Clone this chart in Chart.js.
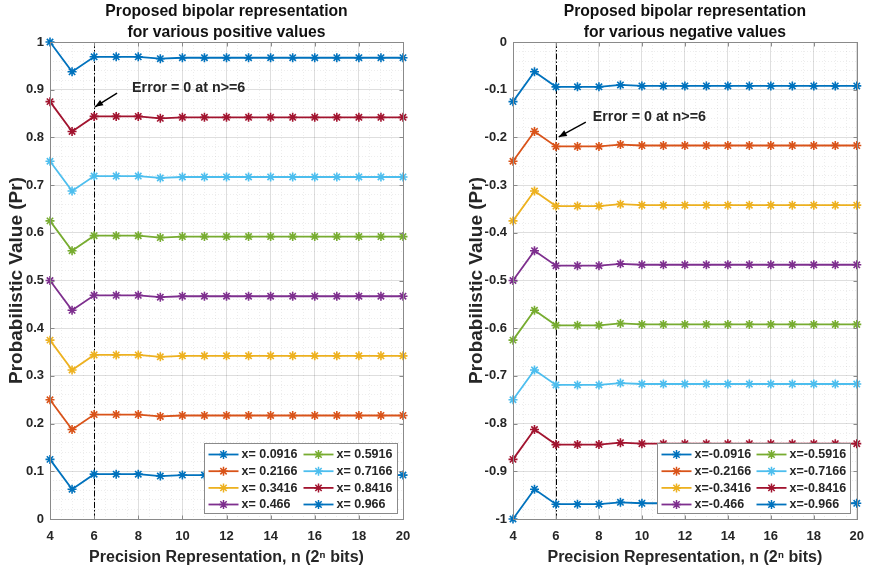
<!DOCTYPE html>
<html><head><meta charset="utf-8">
<script src="https://cdn.jsdelivr.net/npm/chart.js@4.4.1/dist/chart.umd.min.js"></script>
<style>
html,body{margin:0;padding:0;background:#fff;}
#wrap{position:relative;width:874px;height:573px;overflow:hidden;background:#fff;}
canvas{position:absolute;top:0;}
#c1{left:0;}
#c2{left:437px;}
</style></head><body>
<div id="wrap"><canvas id="c1" width="437" height="573"></canvas><canvas id="c2" width="437" height="573"></canvas></div>
<script>
// ---------- DATA ----------
const nValues = [4,5,6,7,8,9,10,11,12,13,14,15,16,17,18,19,20];
const xTickLabels = ['4','6','8','10','12','14','16','18','20'];
const posTickLabels = ['0','0.1','0.2','0.3','0.4','0.5','0.6','0.7','0.8','0.9','1'];
const negTickLabels = ['-1','-0.9','-0.8','-0.7','-0.6','-0.5','-0.4','-0.3','-0.2','-0.1','0'];

const posLabels = ['x= 0.0916','x= 0.2166','x= 0.3416','x= 0.466','x= 0.5916','x= 0.7166','x= 0.8416','x= 0.966'];
const negLabels = ['x=-0.0916','x=-0.2166','x=-0.3416','x=-0.466','x=-0.5916','x=-0.7166','x=-0.8416','x=-0.966'];

const pos0916 = [0.125,0.0625,0.094,0.094,0.094,0.090,0.092,0.092,0.092,0.092,0.092,0.092,0.092,0.092,0.092,0.092,0.092];
const pos2166 = [0.25,0.1875,0.219,0.219,0.219,0.215,0.217,0.217,0.217,0.217,0.217,0.217,0.217,0.217,0.217,0.217,0.217];
const pos3416 = [0.375,0.3125,0.344,0.344,0.344,0.340,0.342,0.342,0.342,0.342,0.342,0.342,0.342,0.342,0.342,0.342,0.342];
const pos466  = [0.5,0.4375,0.469,0.469,0.469,0.465,0.467,0.467,0.467,0.467,0.467,0.467,0.467,0.467,0.467,0.467,0.467];
const pos5916 = [0.625,0.5625,0.594,0.594,0.594,0.590,0.592,0.592,0.592,0.592,0.592,0.592,0.592,0.592,0.592,0.592,0.592];
const pos7166 = [0.75,0.6875,0.719,0.719,0.719,0.715,0.717,0.717,0.717,0.717,0.717,0.717,0.717,0.717,0.717,0.717,0.717];
const pos8416 = [0.875,0.8125,0.844,0.844,0.844,0.840,0.842,0.842,0.842,0.842,0.842,0.842,0.842,0.842,0.842,0.842,0.842];
const pos966  = [1.0,0.9375,0.969,0.969,0.969,0.965,0.967,0.967,0.967,0.967,0.967,0.967,0.967,0.967,0.967,0.967,0.967];

const neg0916 = [-0.125,-0.0625,-0.094,-0.094,-0.094,-0.090,-0.092,-0.092,-0.092,-0.092,-0.092,-0.092,-0.092,-0.092,-0.092,-0.092,-0.092];
const neg2166 = [-0.25,-0.1875,-0.219,-0.219,-0.219,-0.215,-0.217,-0.217,-0.217,-0.217,-0.217,-0.217,-0.217,-0.217,-0.217,-0.217,-0.217];
const neg3416 = [-0.375,-0.3125,-0.344,-0.344,-0.344,-0.340,-0.342,-0.342,-0.342,-0.342,-0.342,-0.342,-0.342,-0.342,-0.342,-0.342,-0.342];
const neg466  = [-0.5,-0.4375,-0.469,-0.469,-0.469,-0.465,-0.467,-0.467,-0.467,-0.467,-0.467,-0.467,-0.467,-0.467,-0.467,-0.467,-0.467];
const neg5916 = [-0.625,-0.5625,-0.594,-0.594,-0.594,-0.590,-0.592,-0.592,-0.592,-0.592,-0.592,-0.592,-0.592,-0.592,-0.592,-0.592,-0.592];
const neg7166 = [-0.75,-0.6875,-0.719,-0.719,-0.719,-0.715,-0.717,-0.717,-0.717,-0.717,-0.717,-0.717,-0.717,-0.717,-0.717,-0.717,-0.717];
const neg8416 = [-0.875,-0.8125,-0.844,-0.844,-0.844,-0.840,-0.842,-0.842,-0.842,-0.842,-0.842,-0.842,-0.842,-0.842,-0.842,-0.842,-0.842];
const neg966  = [-1.0,-0.9375,-0.969,-0.969,-0.969,-0.965,-0.967,-0.967,-0.967,-0.967,-0.967,-0.967,-0.967,-0.967,-0.967,-0.967,-0.967];

const posSeries = [pos0916,pos2166,pos3416,pos466,pos5916,pos7166,pos8416,pos966];
const negSeries = [neg0916,neg2166,neg3416,neg466,neg5916,neg7166,neg8416,neg966];

const seriesColors = ['#0072BD','#D95319','#EDB120','#7E2F8E','#77AC30','#4DBEEE','#A2142F','#0072BD'];

const posTitle = ['Proposed bipolar representation','for various positive values'];
const negTitle = ['Proposed bipolar representation','for various negative values'];
const xTitle = 'Precision Representation, n (2\u207F bits)';
const yTitle = 'Probabilistic Value (Pr)';
const annotText = 'Error = 0 at n>=6';
const errorN = 6;

// ---------- DRAWING ----------
const FONT = '"Liberation Sans", Arial, Helvetica, sans-serif';
const TXT = '#262626';

function drawStar(ctx, cx, cy, r) {
  ctx.beginPath();
  for (let k = 0; k < 4; k++) {
    const ang = k * Math.PI / 4;
    const dx = Math.cos(ang) * r, dy = Math.sin(ang) * r;
    ctx.moveTo(cx - dx, cy - dy); ctx.lineTo(cx + dx, cy + dy);
  }
  ctx.stroke();
}

const decoPlugin = {
  id: 'deco',
  beforeDatasetsDraw(chart, args, o) {
    const {ctx, chartArea: a, scales: {x}} = chart;
    ctx.save();
    ctx.strokeStyle = '#000'; ctx.lineWidth = 1;
    ctx.setLineDash([6, 2, 1.5, 2]);
    const px = Math.round(x.getPixelForValue(errorN)) + 0.5;
    ctx.beginPath(); ctx.moveTo(px, a.top); ctx.lineTo(px, a.bottom); ctx.stroke();
    ctx.restore();
  },
  afterDatasetsDraw(chart, args, o) {
    const {ctx, chartArea: a, scales: {x, y}} = chart;
    ctx.save();
    // axes box + inward ticks
    ctx.strokeStyle = '#8a8a8a'; ctx.lineWidth = 1;
    const L = Math.round(a.left) + 0.5, R = Math.round(a.right) + 0.5, T = Math.round(a.top) + 0.5, B = Math.round(a.bottom) + 0.5;
    ctx.strokeRect(L, T, R - L, B - T);
    ctx.beginPath();
    for (let v = 4; v <= 20; v += 2) {
      const px = Math.round(x.getPixelForValue(v)) + 0.5;
      ctx.moveTo(px, B); ctx.lineTo(px, B - 4);
      ctx.moveTo(px, T); ctx.lineTo(px, T + 4);
    }
    for (let k = 0; k <= 10; k++) {
      const py = Math.round(y.getPixelForValue(y.min + k * 0.1)) + 0.5;
      ctx.moveTo(L, py); ctx.lineTo(L + 4, py);
      ctx.moveTo(R, py); ctx.lineTo(R - 4, py);
    }
    ctx.stroke();

    // annotation arrow + text
    const tx = x.getPixelForValue(o.annot.tx), ty = y.getPixelForValue(o.annot.ty);
    const ax0 = x.getPixelForValue(o.annot.ax0), ay0 = y.getPixelForValue(o.annot.ay0);
    const ax1 = x.getPixelForValue(o.annot.ax1), ay1 = y.getPixelForValue(o.annot.ay1);
    ctx.strokeStyle = '#000'; ctx.fillStyle = '#000'; ctx.lineWidth = 1.4;
    ctx.beginPath(); ctx.moveTo(ax0, ay0); ctx.lineTo(ax1, ay1); ctx.stroke();
    const ang = Math.atan2(ay1 - ay0, ax1 - ax0);
    const hl = 8, hw = 3.2;
    ctx.beginPath();
    ctx.moveTo(ax1, ay1);
    ctx.lineTo(ax1 - hl * Math.cos(ang) + hw * Math.sin(ang), ay1 - hl * Math.sin(ang) - hw * Math.cos(ang));
    ctx.lineTo(ax1 - hl * Math.cos(ang) - hw * Math.sin(ang), ay1 - hl * Math.sin(ang) + hw * Math.cos(ang));
    ctx.closePath(); ctx.fill();
    ctx.font = 'bold 14.3px ' + FONT; ctx.fillStyle = TXT;
    ctx.textAlign = 'left'; ctx.textBaseline = 'middle';
    ctx.fillText(annotText, tx, ty);

    // legend
    const bw = 193, bh = 70;
    const bx = Math.round(a.right - 6.5 - bw) + 0.5, by = Math.round(a.bottom - 6 - bh) + 0.5;
    ctx.fillStyle = '#fff'; ctx.fillRect(bx, by, bw, bh);
    ctx.strokeStyle = '#8a8a8a'; ctx.lineWidth = 1; ctx.strokeRect(bx, by, bw, bh);
    const rows = [11, 27.7, 44.4, 61];
    const cols = [{l0: 4, l1: 34, t: 37}, {l0: 99, l1: 129, t: 132}];
    ctx.font = 'bold 12.5px ' + FONT; ctx.textBaseline = 'middle'; ctx.textAlign = 'left';
    chart.data.datasets.forEach((ds, i) => {
      const c = cols[i < 4 ? 0 : 1], ry = by + rows[i % 4];
      ctx.strokeStyle = ds.borderColor; ctx.lineWidth = 1.8;
      ctx.beginPath(); ctx.moveTo(bx + c.l0, ry); ctx.lineTo(bx + c.l1, ry); ctx.stroke();
      ctx.lineWidth = 1.5;
      drawStar(ctx, bx + (c.l0 + c.l1) / 2, ry, 4.5);
      ctx.fillStyle = TXT;
      ctx.fillText(ds.label, bx + c.t, ry + 0.5);
    });
    ctx.restore();
  },
  afterDraw(chart, args, o) {
    const {ctx, chartArea: a} = chart;
    ctx.save();
    ctx.font = 'bold 15.7px ' + FONT; ctx.fillStyle = '#111';
    ctx.textAlign = 'center'; ctx.textBaseline = 'middle';
    const cx = (a.left + a.right) / 2;
    o.title.forEach((t, i) => ctx.fillText(t, cx, 11.5 + i * 21));
    ctx.restore();
  }
};

function isMajorY(v) { return Math.abs(v * 10 - Math.round(v * 10)) < 1e-6; }
function isMajorX(v) { return Math.abs(v / 2 - Math.round(v / 2)) < 1e-6; }

function makeChart(id, series, labels, yMin, yMax, yTicks, title, yWidth, yTitlePad, padRight, annot) {
  const datasets = series.map((s, i) => ({
    label: labels[i],
    data: s.map((v, k) => ({x: nValues[k], y: v})),
    borderColor: seriesColors[i],
    backgroundColor: seriesColors[i],
    pointBorderColor: seriesColors[i],
    pointBackgroundColor: seriesColors[i],
    borderWidth: 1.8,
    pointStyle: 'star',
    pointRadius: 4.5,
    pointBorderWidth: 1.6,
    tension: 0,
    clip: false
  }));
  return new Chart(document.getElementById(id), {
    type: 'line',
    data: {datasets},
    plugins: [decoPlugin],
    options: {
      responsive: false,
      devicePixelRatio: 1,
      animation: false,
      events: [],
      layout: {padding: {top: 42, right: padRight, bottom: 0, left: 0}},
      plugins: {
        legend: {display: false},
        title: {display: false},
        tooltip: {enabled: false},
        deco: {title: title, annot: annot}
      },
      scales: {
        x: {
          type: 'linear', min: 4, max: 20,
          afterFit: (s) => { s.height = 54; },
          ticks: {
            stepSize: 0.5, autoSkip: false, maxRotation: 0, padding: 10,
            color: TXT, font: {family: FONT, size: 13, weight: 'bold'},
            callback: (v) => isMajorX(v) ? (xTickLabels.includes(String(Math.round(v))) ? String(Math.round(v)) : '') : ''
          },
          grid: {
            drawTicks: false,
            color: (c) => isMajorX(c.tick.value) ? 'rgba(0,0,0,0.13)' : 'rgba(0,0,0,0.07)',
            lineWidth: 1
          },
          border: {display: false, dash: (c) => (c.tick && isMajorX(c.tick.value)) ? [] : [1, 2]},
          title: {display: true, text: xTitle, color: TXT, font: {family: FONT, size: 16, weight: 'bold'}, padding: {top: 0, bottom: 6}}
        },
        y: {
          type: 'linear', min: yMin, max: yMax,
          afterFit: (s) => { s.width = yWidth; },
          ticks: {
            stepSize: 0.02, autoSkip: false, padding: 6,
            color: TXT, font: {family: FONT, size: 13, weight: 'bold'},
            callback: (v) => {
              if (!isMajorY(v)) return '';
              const idx = Math.round((v - yMin) * 10);
              return yTicks[idx];
            }
          },
          grid: {
            drawTicks: false,
            color: (c) => isMajorY(c.tick.value) ? 'rgba(0,0,0,0.13)' : 'rgba(0,0,0,0.07)',
            lineWidth: 1
          },
          border: {display: false, dash: (c) => (c.tick && isMajorY(c.tick.value)) ? [] : [1, 2]},
          title: {display: true, text: yTitle, color: TXT, font: {family: FONT, size: 19, weight: 'bold'}, padding: {top: yTitlePad, bottom: 0}}
        }
      }
    }
  });
}

makeChart('c1', posSeries, posLabels, 0, 1, posTickLabels, posTitle, 50, 5, 34,
  {tx: 7.72, ty: 0.904, ax0: 7.04, ay0: 0.893, ax1: 6.04, ay1: 0.864});
makeChart('c2', negSeries, negLabels, -1, 0, negTickLabels, negTitle, 76, 28, 7,
  {tx: 7.71, ty: -0.157, ax0: 7.39, ay0: -0.168, ax1: 6.13, ay1: -0.199});
</script>
</body></html>
